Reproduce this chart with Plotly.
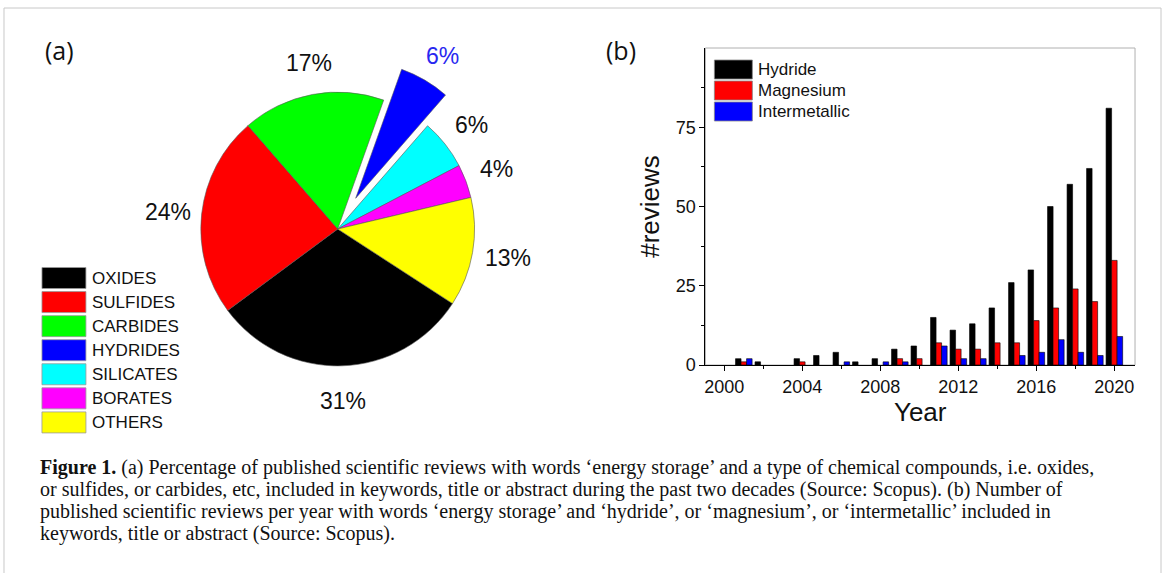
import plotly.graph_objects as go

W, H = 1168, 573          # reference picture size (coordinates below are in these pixels)
FIG_H = 583               # page height that is captured and squeezed into 573

# ---------------- data ----------------
pie_labels = ["OXIDES", "SULFIDES", "CARBIDES", "HYDRIDES", "SILICATES", "BORATES", "OTHERS"]
pie_values = [31, 24, 17, 6, 6, 4, 13]
pie_colors = ["#000000", "#FF0000", "#00FF00", "#0000FF", "#00FFFF", "#FF00FF", "#FFFF00"]
pie_pull = [0, 0, 0, 0.26, 0, 0, 0]

years = list(range(2000, 2021))
hydride = [0, 2, 1, 0, 2, 3, 4, 1, 2, 5, 6, 15, 11, 13, 18, 26, 30, 50, 57, 62, 81]
magnesium = [0, 1, 0, 0, 1, 0, 0, 0, 0, 2, 2, 7, 5, 5, 7, 7, 14, 18, 24, 20, 33]
intermetallic = [0, 2, 0, 0, 0, 0, 1, 0, 1, 1, 0, 6, 2, 2, 0, 3, 4, 8, 4, 3, 9]
bar_names = ["Hydride", "Magnesium", "Intermetallic"]
bar_colors = ["#000000", "#FF0000", "#0000FF"]

x_ticks = [2000, 2004, 2008, 2012, 2016, 2020]
y_ticks = [0, 25, 50, 75]

caption_lines = [
    "<b>Figure 1.</b> (a) Percentage of published scientific reviews with words \u2018energy storage\u2019 and a type of chemical compounds, i.e. oxides,",
    "or sulfides, or carbides, etc, included in keywords, title or abstract during the past two decades (Source: Scopus). (b) Number of",
    "published scientific reviews per year with words \u2018energy storage\u2019 and \u2018hydride\u2019, or \u2018magnesium\u2019, or \u2018intermetallic\u2019 included in",
    "keywords, title or abstract (Source: Scopus).",
]


def px(x):
    return x / W


def py(y):
    return 1 - y / H


SANS = "Liberation Sans, Arial, sans-serif"
SERIF = "Liberation Serif, Times New Roman, serif"

fig = go.Figure()

# ---------------- pie ----------------
cx, cy, r = 337, 229, 137
half = r * (1 + max(pie_pull))
fig.add_trace(go.Pie(
    labels=pie_labels, values=pie_values, sort=False, direction="clockwise",
    rotation=123, pull=pie_pull, textinfo="none", hoverinfo="label+percent",
    marker=dict(colors=pie_colors, line=dict(color="#555555", width=0.6)),
    domain=dict(x=[px(cx - half), px(cx + half)], y=[py(cy + half), py(cy - half)]),
    showlegend=False,
))

# ---------------- bars ----------------
for name, vals, col in zip(bar_names, [hydride, magnesium, intermetallic], bar_colors):
    fig.add_trace(go.Bar(
        x=years, y=[v if v else None for v in vals], name=name,
        marker=dict(color=col, line=dict(color="#000000", width=0.6)),
        showlegend=False,
    ))

fig.update_layout(
    width=W, height=FIG_H, margin=dict(l=0, r=0, t=0, b=0),
    paper_bgcolor="white", plot_bgcolor="white",
    barmode="group", bargap=0.15, bargroupgap=0,
    font=dict(family=SANS, color="#111111"),
    xaxis=dict(
        domain=[px(705), px(1135)], range=[1999.03, 2021.06],
        tickvals=x_ticks, ticks="outside", ticklen=5, tickwidth=1, tickcolor="black",
        showline=True, linecolor="black", linewidth=1, showgrid=False, zeroline=False,
        tickfont=dict(size=18, family=SANS, color="#111111"),
        minor=dict(tickvals=[y + 2 for y in x_ticks[:-1]], ticks="outside", ticklen=3, tickcolor="black"),
        title=dict(text="Year", font=dict(size=26, family=SANS, color="#111111"), standoff=4),
    ),
    yaxis=dict(
        domain=[py(365), py(48)], range=[0, 100],
        tickvals=y_ticks, ticks="outside", ticklen=5, tickwidth=1, tickcolor="black",
        showline=True, linecolor="black", linewidth=1, showgrid=False, zeroline=False,
        tickfont=dict(size=18, family=SANS, color="#111111"),
        minor=dict(tickvals=[v + 12.5 for v in y_ticks], ticks="outside", ticklen=3, tickcolor="black"),
        title=dict(text="#reviews", font=dict(size=26, family=SANS, color="#111111"), standoff=8),
    ),
)

shapes = []
annotations = []

# gray frame around bar plot (top/right)
shapes.append(dict(type="rect", xref="x domain", yref="y domain", x0=0, x1=1, y0=0, y1=1,
                   line=dict(color="#b0b0b0", width=1), layer="below"))

# outer figure border
for (x0, y0, x1, y1) in [(3, 8, 3, 573), (3, 8, 1161, 8), (1161, 8, 1161, 573)]:
    shapes.append(dict(type="line", xref="paper", yref="paper", x0=px(x0), y0=py(y0), x1=px(x1), y1=py(y1),
                       line=dict(color="#c8c8c8", width=1)))

# pie legend
for i, (lab, col) in enumerate(zip(pie_labels, pie_colors)):
    top = 267.5 + i * 24.07
    shapes.append(dict(type="rect", xref="paper", yref="paper", x0=px(41), x1=px(85),
                       y0=py(top + 21), y1=py(top), fillcolor=col,
                       line=dict(color="#999999", width=0.8)))
    annotations.append(dict(x=px(89), y=py(top + 10.5), xref="paper", yref="paper", text=lab,
                            showarrow=False, xanchor="left", yanchor="middle",
                            font=dict(size=17, family=SANS, color="#111111")))

# bar legend
for i, (nm, col) in enumerate(zip(bar_names, bar_colors)):
    top = 60 + i * 21
    shapes.append(dict(type="rect", xref="paper", yref="paper", x0=px(714), x1=px(752),
                       y0=py(top + 19), y1=py(top), fillcolor=col,
                       line=dict(color="#888888", width=0.8)))
    annotations.append(dict(x=px(756), y=py(top + 9.5), xref="paper", yref="paper", text=nm,
                            showarrow=False, xanchor="left", yanchor="middle",
                            font=dict(size=17, family=SANS, color="#111111")))

# pie percentage labels
label_pos = {
    "OXIDES": (342, 401), "SULFIDES": (167, 212), "CARBIDES": (308, 63), "HYDRIDES": (442, 56),
    "SILICATES": (471, 125), "BORATES": (496, 169), "OTHERS": (507, 258),
}
for lab, val in zip(pie_labels, pie_values):
    x, y = label_pos[lab]
    annotations.append(dict(x=px(x), y=py(y), xref="paper", yref="paper", text=f"{val}%",
                            showarrow=False, xanchor="center", yanchor="middle",
                            font=dict(size=23, family=SANS,
                                      color="#2828F0" if lab == "HYDRIDES" else "#111111")))

# panel labels
for txt, (x, y) in [("(a)", (59, 50)), ("(b)", (621, 50))]:
    annotations.append(dict(x=px(x), y=py(y), xref="paper", yref="paper", text=txt, showarrow=False,
                            xanchor="center", yanchor="middle",
                            font=dict(size=25, family="Open Sans, sans-serif", color="#111111")))

# caption
for i, line in enumerate(caption_lines):
    annotations.append(dict(x=px(37), y=py(467 + i * 22), xref="paper", yref="paper", text=line,
                            showarrow=False, xanchor="left", yanchor="middle",
                            font=dict(size=20, family=SERIF, color="#111111")))

fig.update_layout(shapes=shapes, annotations=annotations)
fig.write_html(
    "out.html",
    config={"displayModeBar": False},
    post_script="document.body.style.margin='0';document.body.style.padding='0';",
)
